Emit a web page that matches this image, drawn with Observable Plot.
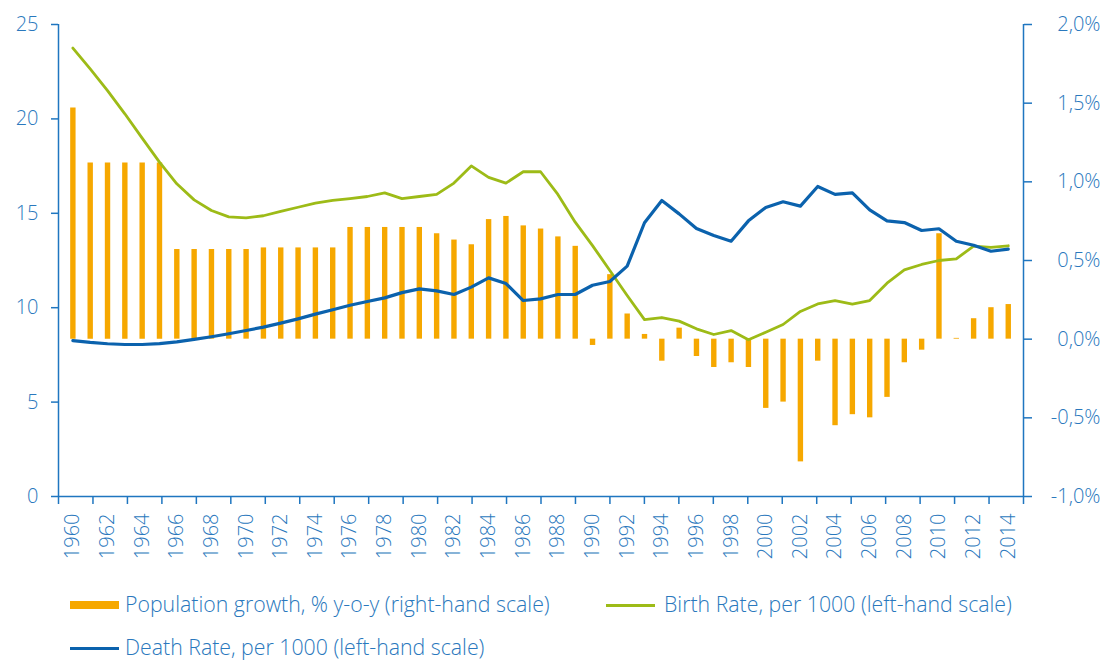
<!DOCTYPE html>
<html>
<head>
<meta charset="utf-8">
<script src="https://cdn.jsdelivr.net/npm/d3@7"></script>
<script src="https://cdn.jsdelivr.net/npm/@observablehq/plot@0.6"></script>
<style>
  body { margin: 0; background: #fff; }
  #wrap { position: relative; width: 1105px; height: 660px; font-family: "Open Sans", sans-serif; font-weight: 300; color: #2a78bd; }
  #chart svg { display: block; }
  .lg { position: absolute; font-size: 21.3px; line-height: 26px; white-space: nowrap; }
  .sw { position: absolute; }
</style>
</head>
<body>
<div id="wrap">
  <div id="chart"></div>
</div>
<script>
const years = [1960,1961,1962,1963,1964,1965,1966,1967,1968,1969,
  1970,1971,1972,1973,1974,1975,1976,1977,1978,1979,
  1980,1981,1982,1983,1984,1985,1986,1987,1988,1989,
  1990,1991,1992,1993,1994,1995,1996,1997,1998,1999,
  2000,2001,2002,2003,2004,2005,2006,2007,2008,2009,
  2010,2011,2012,2013,2014];

// Population growth, % y-o-y (right-hand scale)
const growth = [1.47,1.12,1.12,1.12,1.12,1.12,0.57,0.57,0.57,0.57,
  0.57,0.58,0.58,0.58,0.58,0.58,0.71,0.71,0.71,0.71,
  0.71,0.67,0.63,0.60,0.76,0.78,0.72,0.70,0.65,0.59,
  -0.04,0.41,0.16,0.03,-0.14,0.07,-0.11,-0.18,-0.15,-0.18,
  -0.44,-0.40,-0.78,-0.14,-0.55,-0.48,-0.50,-0.37,-0.15,-0.07,
  0.67,0.005,0.13,0.20,0.22];

// Birth Rate, per 1000 (left-hand scale)
const birth = [23.75,22.65,21.5,20.27,18.98,17.71,16.56,15.71,15.15,14.81,
  14.76,14.87,15.1,15.32,15.54,15.68,15.78,15.89,16.08,15.78,
  15.89,16.0,16.6,17.51,16.9,16.6,17.2,17.2,16.0,14.53,
  13.29,11.97,10.65,9.37,9.48,9.29,8.88,8.58,8.79,8.3,
  8.7,9.11,9.8,10.2,10.38,10.19,10.38,11.3,12.0,12.29,
  12.5,12.59,13.26,13.19,13.28];

// Death Rate, per 1000 (left-hand scale)
const death = [8.26,8.16,8.09,8.05,8.05,8.1,8.19,8.32,8.46,8.62,
  8.79,8.97,9.18,9.41,9.66,9.89,10.13,10.33,10.52,10.8,
  11.0,10.89,10.7,11.09,11.58,11.28,10.38,10.47,10.7,10.7,
  11.19,11.39,12.2,14.5,15.68,14.97,14.19,13.82,13.52,14.6,
  15.31,15.61,15.38,16.42,16.0,16.08,15.18,14.6,14.51,14.09,
  14.18,13.52,13.31,12.99,13.1];

const leftTicks = [0, 5, 10, 15, 20, 25];
const rightTicks = [-1.0, -0.5, 0.0, 0.5, 1.0, 1.5, 2.0];
const rightLabels = ["-1,0%", "-0,5%", "0,0%", "0,5%", "1,0%", "1,5%", "2,0%"];
const yearLabels = [1960,1962,1964,1966,1968,1970,1972,1974,1976,1978,1980,1982,1984,1986,1988,1990,1992,1994,1996,1998,2000,2002,2004,2006,2008,2010,2012,2014];

const legendItems = [
  {label: "Population growth, % y-o-y (right-hand scale)", color: "#f6a800", kind: "bar"},
  {label: "Birth Rate, per 1000 (left-hand scale)", color: "#9dbb17", kind: "line"},
  {label: "Death Rate, per 1000 (left-hand scale)", color: "#0b62ad", kind: "line"}
];

const COL = {bar: "#f6a800", birth: "#9dbb17", death: "#0b62ad", axis: "#1f76c0", text: "#2a78bd"};

// secondary (right) scale mapped onto primary domain: -1% -> 0, 2% -> 25
const leftMin = 0, leftMax = 25, rightMin = -1, rightMax = 2;
const toLeft = p => leftMin + (p - rightMin) * (leftMax - leftMin) / (rightMax - rightMin);

const xDomain = [1959.17, 2014.88];
const nTickIntervals = 28;
const xTickMarks = d3.range(nTickIntervals + 1).map(k => xDomain[0] + k * (xDomain[1] - xDomain[0]) / nTickIntervals);

const data = years.map((y, i) => ({year: y, growth: growth[i], birth: birth[i], death: death[i]}));

const chart = Plot.plot({
  width: 1105,
  height: 575,
  marginLeft: 58,
  marginRight: 82,
  marginTop: 24,
  marginBottom: 79,
  style: {fontFamily: "Open Sans, sans-serif", fontSize: "20px", fontWeight: 300, color: COL.text, background: "white"},
  x: {type: "linear", domain: xDomain, axis: null},
  y: {domain: [leftMin, leftMax], axis: null},
  marks: [
    // bars
    Plot.ruleX(data, {x: "year", y1: toLeft(0), y2: d => toLeft(d.growth), stroke: COL.bar, strokeWidth: 5.4}),
    // lines
    Plot.line(data, {x: "year", y: "birth", stroke: COL.birth, strokeWidth: 2.8}),
    Plot.line(data, {x: "year", y: "death", stroke: COL.death, strokeWidth: 3.2}),
    // axis lines
    Plot.ruleX([xDomain[0]], {stroke: COL.axis, strokeWidth: 1.5}),
    Plot.ruleX([xDomain[1]], {stroke: COL.axis, strokeWidth: 1.5}),
    Plot.ruleY([leftMin], {stroke: COL.axis, strokeWidth: 1.5}),
    // left axis
    Plot.axisY(leftTicks, {anchor: "left", label: null, tickSize: 7, tickPadding: 13, stroke: COL.axis, fill: COL.text, strokeWidth: 1.5, fontSize: 20}),
    // right axis
    Plot.axisY(rightTicks.map(toLeft), {
      anchor: "right", label: null, tickSize: 8, tickPadding: 69, textAnchor: "end",
      stroke: COL.axis, fill: COL.text, strokeWidth: 1.5, fontSize: 20,
      tickFormat: d => rightLabels[rightTicks.findIndex(t => Math.abs(toLeft(t) - d) < 1e-6)]
    }),
    // x tick marks
    Plot.axisX(xTickMarks, {anchor: "bottom", label: null, tickSize: 8, stroke: COL.axis, strokeWidth: 1.5, tickFormat: () => ""}),
    // x labels
    Plot.axisX(yearLabels, {anchor: "bottom", label: null, tickSize: 0, tickRotate: -90, textAnchor: "end", tickPadding: 17, fill: COL.text, fontSize: 20, tickFormat: d => String(d)})
  ]
});

document.getElementById("chart").appendChild(chart);

// legend
const wrap = document.getElementById("wrap");
const legendPos = [
  {sx: 70, tx: 125, cy: 605},
  {sx: 606, tx: 664, cy: 605},
  {sx: 70, tx: 125, cy: 648}
];
legendItems.forEach((it, i) => {
  const p = legendPos[i];
  const sw = document.createElement("div");
  sw.className = "sw";
  const h = it.kind === "bar" ? 8 : 3;
  sw.style.left = p.sx + "px";
  sw.style.width = "49px";
  sw.style.top = (p.cy - h / 2) + "px";
  sw.style.height = h + "px";
  sw.style.background = it.color;
  wrap.appendChild(sw);
  const t = document.createElement("div");
  t.className = "lg";
  t.textContent = it.label;
  t.style.left = p.tx + "px";
  t.style.top = (p.cy - 14) + "px";
  wrap.appendChild(t);
});
</script>
</body>
</html>
